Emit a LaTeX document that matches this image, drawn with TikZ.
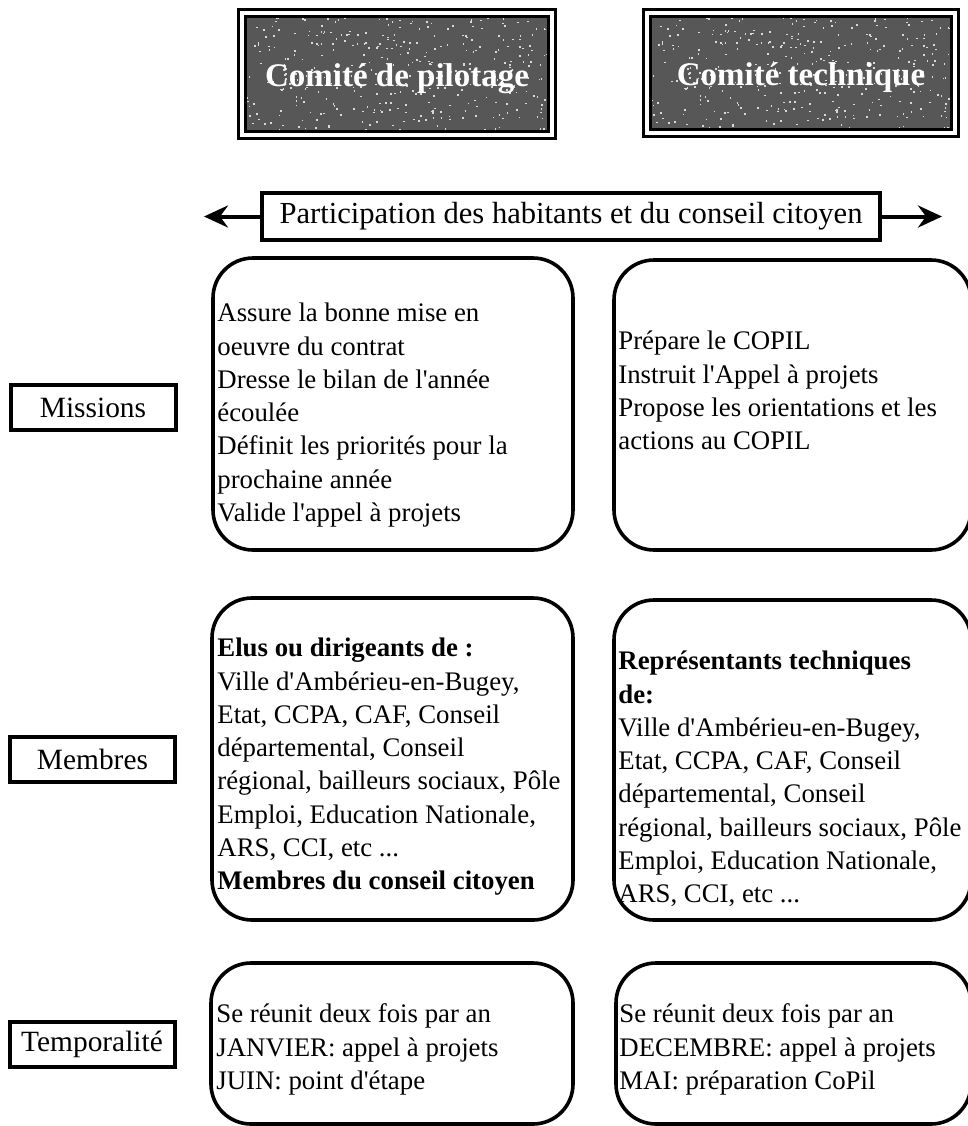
\documentclass[tikz,border=0pt]{standalone}
\usepackage{fontspec}
\setmainfont{Liberation Serif}
\usetikzlibrary{arrows.meta}

\newcommand\bodytext{\fontsize{13.4pt}{16.65pt}\selectfont}
\newcommand\labeltext{\fontsize{14.7pt}{17pt}\selectfont}
\newcommand\bannertext{\fontsize{15.3pt}{18pt}\selectfont}
\newcommand\headtext{\fontsize{16.5pt}{19pt}\selectfont\bfseries}
\newcommand\apos{\textquotesingle}

% grainy dark fill for the two committee headers
\newcommand\grain{%
  \pgfmathsetseed{4711}%
  \foreach \k in {1,...,380}{%
    \fill[white!85!black] ([shift={(rand*76pt,rand*29pt)}]path picture bounding box.center)
      rectangle ++(0.8pt,0.8pt);}%
}

\tikzset{
  header/.style={draw=black, line width=1.5pt, double=white, double distance=1.6pt,
    fill=black!66, text=white, font=\headtext, inner sep=0,
    text height=15pt, text depth=3pt,
    minimum width=155pt, minimum height=61pt, path picture={\grain}},
  banner/.style={draw=black, line width=2pt, inner sep=0, font=\bannertext,
    minimum width=309pt, minimum height=23.5pt},
  rowlabel/.style={draw=black, line width=2pt, inner sep=0, font=\labeltext,
    minimum width=82.5pt, minimum height=22.5pt},
  panel/.style={draw=black, line width=1.8pt, rounded corners=20pt, inner sep=0},
  paneltext/.style={anchor=north west, inner sep=0, align=left, font=\bodytext},
  wing/.style={line width=2pt, -{Stealth[length=12pt, width=11pt, inset=4pt]}}
}

\begin{document}
\begin{tikzpicture}[x=0.5pt, y=-0.5pt]
\useasboundingbox (0,0) rectangle (968,1126);

% committee headers
\node[header] (copil) at (397,74) {Comité de pilotage};
\node[header, minimum width=154pt, minimum height=60pt] (cotech) at (801,73) {Comité technique};

% participation banner with arrows to both sides
\node[banner] (partic) at (571,216.5) {Participation des habitants et du conseil citoyen};
\coordinate (leftend) at (204,216.5);
\coordinate (rightend) at (942,216.5);
\draw[wing] (partic.west) -- (leftend);
\draw[wing] (partic.east) -- (rightend);

% row labels
\node[rowlabel] (missions) at (93,407.5) {Missions};
\node[rowlabel] (membres) at (92.5,759.5) {Membres};
\node[rowlabel] (tempo) at (92,1044) {Temporalité};

% row 1: missions
\node[panel, minimum width=180pt, minimum height=146pt] (m1) at (393,404) {};
\node[panel, minimum width=178.5pt, minimum height=145pt] (m2) at (792.5,405) {};
\node[paneltext] (m1t) at (217,298) {\strut Assure la bonne mise en\\ oeuvre du contrat\\ Dresse le bilan de l\apos année\\ écoulée\\ Définit les priorités pour la\\ prochaine année\\ Valide l\apos appel à projets};
\node[paneltext] (m2t) at (618,326) {\strut Prépare le COPIL\\ Instruit l\apos Appel à projets\\ Propose les orientations et les\\ actions au COPIL};

% row 2: members
\node[panel, minimum width=180.5pt, minimum height=161pt] (p1) at (392.5,759) {};
\node[panel, minimum width=178.5pt, minimum height=160pt] (p2) at (792.5,760) {};
\node[paneltext] (p1t) at (217,633) {\strut\textbf{Elus ou dirigeants de :}\\ Ville d\apos Ambérieu-en-Bugey,\\ Etat, CCPA, CAF, Conseil\\ départemental, Conseil\\ régional, bailleurs sociaux, Pôle\\ Emploi, Education Nationale,\\ ARS, CCI, etc ...\\ \textbf{Membres du conseil citoyen}};
\node[paneltext] (p2t) at (618,646) {\strut\textbf{Représentants techniques}\\ \textbf{de:}\\ Ville d\apos Ambérieu-en-Bugey,\\ Etat, CCPA, CAF, Conseil\\ départemental, Conseil\\ régional, bailleurs sociaux, Pôle\\ Emploi, Education Nationale,\\ ARS, CCI, etc ...};

% row 3: schedule
\node[panel, minimum width=181pt, minimum height=80.5pt] (t1) at (392,1043.5) {};
\node[panel, minimum width=177.5pt, minimum height=80.5pt] (t2) at (793.5,1043.5) {};
\node[paneltext] (t1t) at (216,999) {\strut Se réunit deux fois par an\\ JANVIER: appel à projets\\ JUIN: point d\apos étape};
\node[paneltext] (t2t) at (619,999) {\strut Se réunit deux fois par an\\ DECEMBRE: appel à projets\\ MAI: préparation CoPil};
\end{tikzpicture}
\end{document}
